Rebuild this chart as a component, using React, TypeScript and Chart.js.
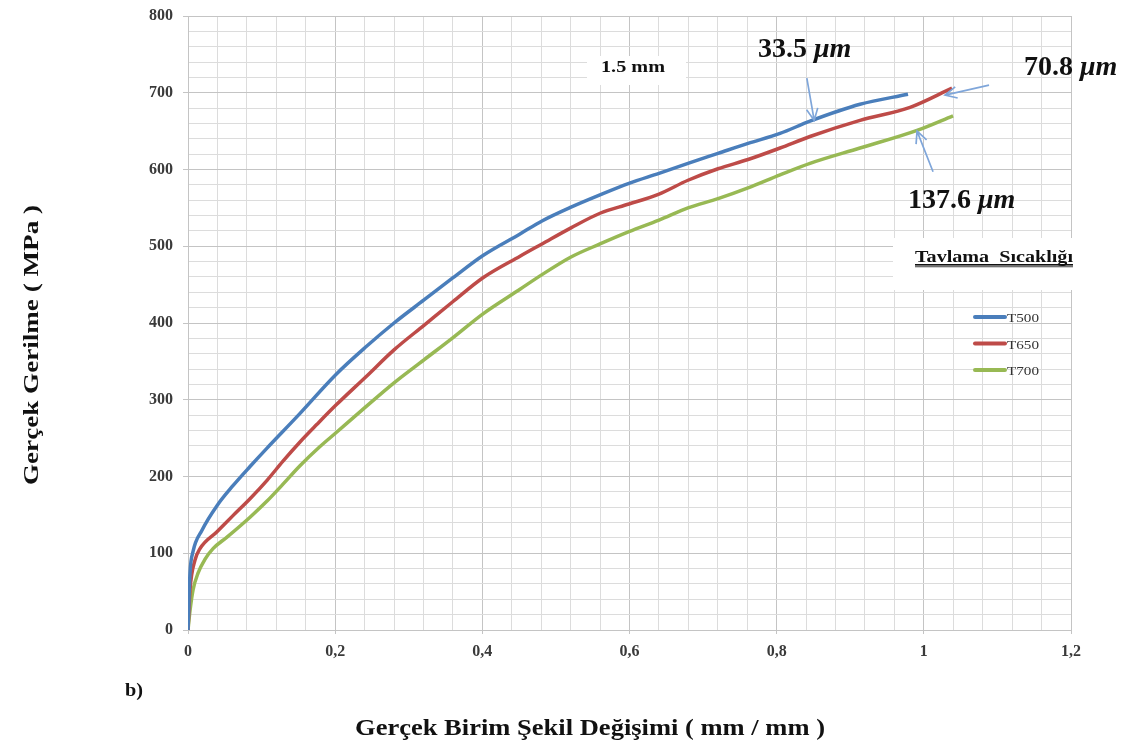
import React, { useEffect, useRef } from "react";
import { Chart, registerables } from "chart.js";

Chart.register(...registerables);

// ---- Data (true strain mm/mm, true stress MPa) ----
const T500_STRAIN = [0, 0.0027, 0.0068, 0.019, 0.0394, 0.0611, 0.0843, 0.1074, 0.1481, 0.2011, 0.2419, 0.28, 0.3207, 0.3602, 0.4009, 0.4512, 0.4811, 0.5205, 0.5599, 0.5993, 0.6401, 0.6795, 0.7203, 0.7611, 0.8046, 0.8453, 0.9133, 0.9785];
const T500_STRESS = [0, 74, 102, 130, 162, 188, 213, 237, 278, 333, 369, 400, 430, 459, 488, 516, 533, 551, 567, 582, 595, 608, 621, 634, 647, 663, 685, 698];

const T650_STRAIN = [0, 0.0027, 0.0095, 0.0163, 0.0394, 0.0611, 0.0843, 0.1074, 0.1291, 0.1522, 0.1753, 0.2011, 0.2419, 0.28, 0.3207, 0.3602, 0.4009, 0.4512, 0.4811, 0.5205, 0.5599, 0.5993, 0.6401, 0.6795, 0.7203, 0.7611, 0.8046, 0.8453, 0.9133, 0.9813, 1.0383];
const T650_STRESS = [0, 52, 91, 106, 128, 149, 171, 195, 220, 245, 268, 293, 330, 365, 397, 428, 459, 487, 503, 524, 543, 555, 568, 586, 601, 613, 628, 643, 664, 681, 706];

const T700_STRAIN = [0, 0.0027, 0.0068, 0.0136, 0.023, 0.034, 0.053, 0.0843, 0.1074, 0.1291, 0.1522, 0.1794, 0.2011, 0.2419, 0.28, 0.3207, 0.3602, 0.4009, 0.4512, 0.4811, 0.5205, 0.5599, 0.5993, 0.6401, 0.6795, 0.7203, 0.7611, 0.8046, 0.8453, 0.9133, 0.9908, 1.0397];
const T700_STRESS = [0, 25, 52, 74, 92, 106, 121, 147, 168, 190, 214, 239, 257, 291, 322, 352, 381, 412, 444, 463, 486, 503, 519, 534, 550, 562, 576, 593, 608, 628, 651, 670];

const SERIES_LABELS = ["T500", "T650", "T700"];
const SERIES_COLORS = ["#4a7ebb", "#be4b48", "#98b954"];

const X_MIN = 0;
const X_MAX = 1.2;
const X_MINOR_STEP = 0.04;
const Y_MIN = 0;
const Y_MAX = 800;
const Y_MINOR_STEP = 20;

const X_TITLE = "Gerçek Birim Şekil Değişimi ( mm / mm )";
const Y_TITLE = "Gerçek Gerilme ( MPa )";
const LEGEND_TITLE = "Tavlama  Sıcaklığı";
const SPECIMEN_LABEL = "1.5 mm";
const PANEL_LABEL = "b)";
// grain-size callouts
const GRAIN_LABELS = ["33.5", "70.8", "137.6"];
const GRAIN_UNIT = "μm";
const ARROW_FROM = [[0.841, 719], [1.0886, 710], [1.0125, 597]];
const ARROW_TO = [[0.851, 664], [1.0288, 697], [0.9908, 650]];

const FONT = '"Liberation Serif", "Times New Roman", serif';

const isMultiple = (v: number, step: number) => Math.abs(v / step - Math.round(v / step)) < 1e-6;

function zip(xs: number[], ys: number[]) {
  return xs.map((x, i) => ({ x, y: ys[i] }));
}

function drawFitted(ctx: CanvasRenderingContext2D, text: string, x: number, y: number, font: string, targetW?: number) {
  ctx.save();
  ctx.font = font;
  const w = ctx.measureText(text).width;
  const sx = targetW ? targetW / w : 1;
  ctx.translate(x, y);
  ctx.scale(sx, 1);
  ctx.textAlign = "left";
  ctx.textBaseline = "alphabetic";
  ctx.fillText(text, 0, 0);
  ctx.restore();
  return w * sx;
}

function drawArrow(ctx: CanvasRenderingContext2D, x1: number, y1: number, x2: number, y2: number) {
  const ang = Math.atan2(y2 - y1, x2 - x1);
  const len = 13;
  const spread = 0.45;
  ctx.beginPath();
  ctx.moveTo(x1, y1);
  ctx.lineTo(x2, y2);
  ctx.moveTo(x2 - len * Math.cos(ang - spread), y2 - len * Math.sin(ang - spread));
  ctx.lineTo(x2, y2);
  ctx.lineTo(x2 - len * Math.cos(ang + spread), y2 - len * Math.sin(ang + spread));
  ctx.stroke();
}

const decorPlugin = {
  id: "decor",
  beforeDatasetsDraw(chart: any) {
    const ctx: CanvasRenderingContext2D = chart.ctx;
    ctx.save();
    ctx.fillStyle = "#ffffff";
    ctx.fillRect(587, 56, 99, 29);
    ctx.fillRect(893, 238, 180, 52);
    ctx.restore();
  },
  afterDraw(chart: any) {
    const ctx: CanvasRenderingContext2D = chart.ctx;
    const xs = chart.scales.x;
    const ys = chart.scales.y;
    ctx.save();
    ctx.fillStyle = "#111111";

    // Axis titles
    drawFitted(ctx, X_TITLE, 355, 735, `bold 23px ${FONT}`, 470);
    ctx.save();
    ctx.translate(38, 485);
    ctx.rotate(-Math.PI / 2);
    drawFitted(ctx, Y_TITLE, 0, 0, `bold 22px ${FONT}`, 280);
    ctx.restore();

    // Panel label
    drawFitted(ctx, PANEL_LABEL, 125, 696, `bold 19px ${FONT}`, 18);

    // Specimen label
    drawFitted(ctx, SPECIMEN_LABEL, 601, 72, `bold 16px ${FONT}`, 64);

    // Grain size labels
    const pos = [[758, 57], [1024, 75], [908, 208]];
    GRAIN_LABELS.forEach((t, i) => {
      ctx.font = `bold 28px ${FONT}`;
      ctx.textAlign = "left";
      ctx.textBaseline = "alphabetic";
      const txt = t + " ";
      ctx.fillText(txt, pos[i][0], pos[i][1]);
      const w = ctx.measureText(txt).width;
      ctx.font = `italic bold 28px ${FONT}`;
      ctx.fillText(GRAIN_UNIT, pos[i][0] + w, pos[i][1]);
    });

    // Arrows
    ctx.strokeStyle = "#7fa6da";
    ctx.lineWidth = 1.7;
    ARROW_FROM.forEach((f, i) => {
      const t = ARROW_TO[i];
      drawArrow(
        ctx,
        xs.getPixelForValue(f[0]),
        ys.getPixelForValue(f[1]),
        xs.getPixelForValue(t[0]),
        ys.getPixelForValue(t[1])
      );
    });

    // Legend title (underlined)
    ctx.fillStyle = "#111111";
    const lw = drawFitted(ctx, LEGEND_TITLE, 915, 262, `bold 16px ${FONT}`, 158);
    ctx.fillRect(915, 264, lw, 1.6);
    ctx.fillRect(915, 266.4, lw, 0.8);

    // Legend entries
    SERIES_LABELS.forEach((lab, i) => {
      const y = 317 + i * 26.5;
      ctx.strokeStyle = SERIES_COLORS[i];
      ctx.lineWidth = 4;
      ctx.lineCap = "round";
      ctx.beginPath();
      ctx.moveTo(975, y);
      ctx.lineTo(1005, y);
      ctx.stroke();
      ctx.fillStyle = "#333333";
      drawFitted(ctx, lab, 1007, y + 5, `13px ${FONT}`, 32);
    });
    ctx.restore();
  },
};

export default function App() {
  const canvasRef = useRef<HTMLCanvasElement | null>(null);

  useEffect(() => {
    if (!canvasRef.current) return;
    const strains = [T500_STRAIN, T650_STRAIN, T700_STRAIN];
    const stresses = [T500_STRESS, T650_STRESS, T700_STRESS];
    const majorGrid = "#c4c4c4";
    const minorGrid = "#dcdcdc";
    const chart = new Chart(canvasRef.current, {
      type: "line",
      data: {
        datasets: SERIES_LABELS.map((label, i) => ({
          label,
          data: zip(strains[i], stresses[i]),
          borderColor: SERIES_COLORS[i],
          backgroundColor: SERIES_COLORS[i],
          borderWidth: 3.5,
          pointRadius: 0,
          cubicInterpolationMode: "monotone" as const,
          fill: false,
        })),
      },
      options: {
        responsive: false,
        animation: false,
        layout: { padding: { top: 16, right: 53, left: 0, bottom: 0 } },
        plugins: {
          legend: { display: false },
          tooltip: { enabled: false },
          title: { display: false },
        },
        scales: {
          x: {
            type: "linear",
            min: X_MIN,
            max: X_MAX,
            afterFit: (s: any) => {
              s.height = 117;
              s.paddingLeft = 0;
              s.paddingRight = 0;
            },
            ticks: {
              stepSize: X_MINOR_STEP,
              autoSkip: false,
              maxRotation: 0,
              padding: 8,
              color: "#3a3a3a",
              font: { family: FONT, size: 16, weight: "bold" },
              callback: (v: any) => {
                const n = Number(v);
                if (!isMultiple(n, 0.2)) return "";
                return String(Math.round(n * 10) / 10).replace(".", ",");
              },
            },
            grid: {
              color: (c: any) => (isMultiple(c.tick.value, 0.2) ? majorGrid : minorGrid),
              tickColor: (c: any) => (isMultiple(c.tick.value, 0.2) ? majorGrid : "rgba(0,0,0,0)"),
              tickLength: 4,
              lineWidth: 1,
            },
            border: { color: majorGrid },
          },
          y: {
            type: "linear",
            min: Y_MIN,
            max: Y_MAX,
            afterFit: (s: any) => {
              s.width = 188;
              s.paddingTop = 0;
              s.paddingBottom = 0;
            },
            ticks: {
              stepSize: Y_MINOR_STEP,
              autoSkip: false,
              padding: 10,
              color: "#3a3a3a",
              font: { family: FONT, size: 16, weight: "bold" },
              callback: (v: any) => {
                const n = Number(v);
                return isMultiple(n, 100) ? String(Math.round(n)) : "";
              },
            },
            grid: {
              color: (c: any) => (isMultiple(c.tick.value, 100) ? majorGrid : minorGrid),
              tickColor: (c: any) => (isMultiple(c.tick.value, 100) ? majorGrid : "rgba(0,0,0,0)"),
              tickLength: 5,
              lineWidth: 1,
            },
            border: { color: majorGrid },
          },
        },
      },
      plugins: [decorPlugin],
    } as any);
    return () => chart.destroy();
  }, []);

  return (
    <div style={{ position: "absolute", left: 0, top: 0, width: 1124, height: 747, background: "#ffffff" }}>
      <canvas ref={canvasRef} width={1124} height={747} />
    </div>
  );
}
